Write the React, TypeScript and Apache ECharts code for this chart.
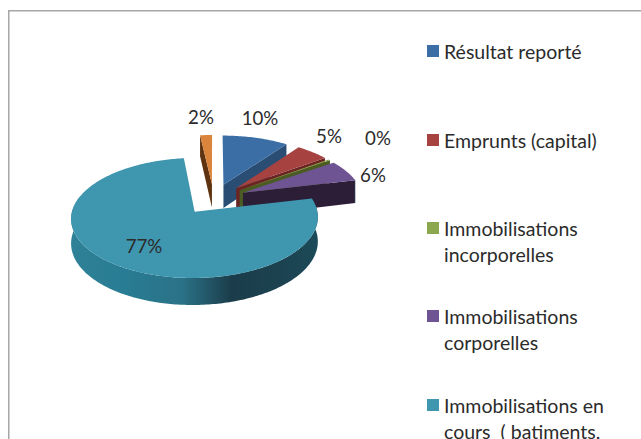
import React, { useEffect, useRef } from "react";
import * as echarts from "echarts";

// ---- data ----
const sliceNames = [
  "Résultat reporté",
  "Emprunts (capital)",
  "Immobilisations\nincorporelles",
  "Immobilisations\ncorporelles",
  "Immobilisations en\ncours  ( batiments,",
  "Autres",
];
const sliceValues = [10, 5, 0.3, 6, 77, 1.8];
const legendCount = 5;

// ---- styles ----
const topColors = ["#3C6EA6", "#A64340", "#8CA84E", "#6E5492", "#3F96AF", "#DA843C"];
const sideColors = ["#2A4D74", "#6A2523", "#4A5C24", "#2D1E38", "#1C4552", "#5E3410"];
const drawOrder = [1, 2, 3, 4, 6, 5];
const labelPositions: [number, number][] = [
  [260, 118],
  [329, 136],
  [378, 138],
  [373, 175],
  [144, 246],
  [201, 117],
];
const legendRows = [51, 140, 228, 316, 405];

const FONT = "Lato, Carlito, Calibri, sans-serif";
const TEXT = "#2b2b2b";

// 3D-pie projection
const CX = 213.7;
const CY = 199;
const RX = 120;
const RY = 56.8;
const K = 0.1; // perspective strength
const H = 23.7; // wall height
const EXPLODE = 0.27;

const project = (u: number, v: number, lift: number): number[] => {
  const s = 1 / (1 - K * v);
  return [CX + RX * u * s, CY + RY * v * s + H * lift * s];
};

const rad = (d: number) => (d * Math.PI) / 180;

const total = sliceValues.reduce((a, b) => a + b, 0);

const renderItem = (params: any, api: any) => {
  const i = params.dataIndex;
  const value = api.value(0);
  let before = 0;
  for (let k = 0; k < i; k++) before += sliceValues[k];
  const start = (before / total) * 360;
  const end = ((before + value) / total) * 360;
  const mid = (start + end) / 2;
  const ou = EXPLODE * Math.sin(rad(mid));
  const ov = -EXPLODE * Math.cos(rad(mid));
  const rim = (deg: number, lift: number) =>
    project(ou + Math.sin(rad(deg)), ov - Math.cos(rad(deg)), lift);
  const apex = (lift: number) => project(ou, ov, lift);
  const arc = (a: number, b: number, lift: number) => {
    const n = Math.max(2, Math.ceil(Math.abs(b - a)));
    const out: number[][] = [];
    for (let k = 0; k <= n; k++) out.push(rim(a + ((b - a) * k) / n, lift));
    return out;
  };
  const z2 = drawOrder[i];
  const side = sideColors[i];
  const children: any[] = [];
  const poly = (points: number[][], fill: any, z: number) =>
    children.push({
      type: "polygon",
      shape: { points },
      style: { fill, stroke: "none" },
      z2: z2 * 10 + z,
    });

  if (Math.sin(rad(start)) < -1e-6) {
    poly([apex(0), rim(start, 0), rim(start, 1), apex(1)], side, 0);
  }
  if (Math.sin(rad(end)) > 1e-6) {
    poly([apex(0), rim(end, 0), rim(end, 1), apex(1)], side, 0);
  }
  const a = Math.max(start, 76.2);
  const b = Math.min(end, 285);
  if (a < b) {
    const fill = new echarts.graphic.LinearGradient(0, 0, 1, 0, [
      { offset: 0, color: "#2F8197" },
      { offset: 0.22, color: "#287C93" },
      { offset: 0.45, color: "#2B7287" },
      { offset: 0.65, color: "#1B3D4B" },
      { offset: 0.85, color: "#1C4250" },
      { offset: 1, color: "#1C4A58" },
    ]);
    poly([...arc(a, b, 0), ...arc(b, a, 1)], fill, 1);
  }
  poly([apex(0), ...arc(start, end, 0)], topColors[i], 2);

  const p = labelPositions[i];
  children.push({
    type: "text",
    x: p[0],
    y: p[1],
    style: {
      text: `${Math.round(value)}%`,
      fill: TEXT,
      font: `18.7px ${FONT}`,
      align: "center",
      verticalAlign: "middle",
    },
    z2: 200,
  });
  return { type: "group", children };
};

export default function App() {
  const ref = useRef<HTMLDivElement>(null);
  useEffect(() => {
    if (!ref.current) return;
    const chart = echarts.init(ref.current, null, { renderer: "svg" });
    const legendGraphics: any[] = [];
    sliceNames.slice(0, legendCount).forEach((name, i) => {
      legendGraphics.push({
        type: "rect",
        shape: { x: 427, y: legendRows[i] - 6, width: 12, height: 12 },
        style: { fill: topColors[i] },
      });
      legendGraphics.push({
        type: "text",
        x: 444,
        y: legendRows[i] - 13,
        style: {
          text: name,
          fill: TEXT,
          font: `19.5px ${FONT}`,
          lineHeight: 26,
          align: "left",
          verticalAlign: "top",
        },
      });
    });
    chart.setOption({
      animation: false,
      backgroundColor: "#ffffff",
      graphic: [
        {
          type: "rect",
          shape: { x: 8.75, y: 10.75, width: 640, height: 440 },
          style: { fill: "none", stroke: "#a6a6a6", lineWidth: 1.5 },
          silent: true,
        },
        ...legendGraphics,
      ],
      series: [
        {
          type: "custom",
          coordinateSystem: "none",
          silent: true,
          renderItem,
          data: sliceValues.map((v) => [v]),
        },
      ],
    });
    return () => chart.dispose();
  }, []);
  return (
    <div
      ref={ref}
      style={{ position: "fixed", left: 0, top: 0, width: 641, height: 439 }}
    />
  );
}
